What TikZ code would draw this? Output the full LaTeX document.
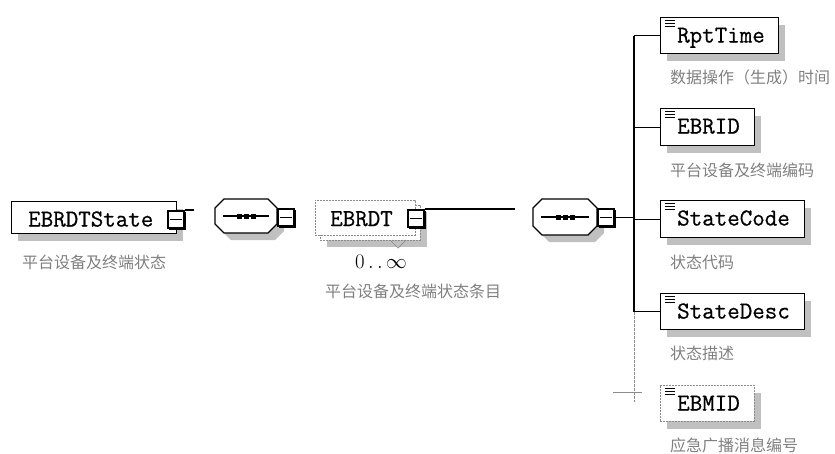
\documentclass[tikz,border=0pt]{standalone}
\usepackage{fontspec}
\newfontfamily\cjk{Noto Sans CJK SC}
\newfontfamily\boxfont{Latin Modern Mono}[FakeBold=0.6]
\definecolor{shadowgray}{RGB}{192,192,192}
\definecolor{labelgray}{RGB}{128,128,128}
\definecolor{optgray}{RGB}{140,140,140}
\tikzset{
  ebox/.style={draw, line width=1.3pt, fill=white, anchor=north west, inner sep=0pt},
  obox/.style={draw=optgray, line width=0.7pt, dash pattern=on 2pt off 1pt, fill=white, anchor=north west, inner sep=0pt},
  boxtext/.style={inner sep=0pt, font=\fontsize{24.3}{25}\boxfont},
  lab/.style={inner sep=0pt, text=labelgray, font=\fontsize{16}{16}\cjk},
  conn/.style={line width=1.3pt},
  minusbox/.style={draw, line width=1.5pt, fill=white, minimum width=16pt, minimum height=17pt, inner sep=0pt, anchor=north west},
}
\newcommand\mkicon[2]{%
  \draw[line width=0.8pt] (#1+5,#2+3.5) -- +(10,0) (#1+5,#2+6.5) -- +(10,0) (#1+5,#2+9.5) -- +(10,0);
}
\newcommand\mkelem[7]{%
  \fill[shadowgray] (#2+7,#3+8) rectangle (#4+7,#5+8);
  \node[#7, minimum width=#4-#2, minimum height=#5-#3] (#1) at (#2,#3) {};
  \node[boxtext, anchor=base west] (#1t) at (#2+17,#3+25.5) {#6};
}
\newcommand\mkminus[3]{%
  \draw[line width=1pt, fill=white] (#2+2.5,#3+2.5) rectangle +(16,17);
  \node[minusbox] (#1) at (#2,#3) {};
  \draw[line width=1.3pt] ([xshift=3pt]#1.west) -- ([xshift=-3pt]#1.east);
}
\newcommand\octpath[4]{(#1+9,#2) -- (#3-9,#2) -- (#3,#2+9) -- (#3,#4-9) -- (#3-9,#4) -- (#1+9,#4) -- (#1,#4-9) -- (#1,#2+9) -- cycle}
\newcommand\mkseq[5]{%
  \fill[shadowgray] \octpath{#2+7}{#3+7}{#4+7}{#5+7};
  \draw[line width=1.3pt, fill=white] \octpath{#2}{#3}{#4}{#5};
  \coordinate (#1) at ({(#2+#4)/2},{(#3+#5)/2});
  \draw[line width=1.3pt] (#2+8,{(#3+#5)/2}) -- (#4-8,{(#3+#5)/2});
  \foreach \k in {-7,0,7} \fill ([xshift=\k pt]#1) +(-2.5,-2.5) rectangle +(2.5,2.5);
}
\begin{document}
\begin{tikzpicture}[x=1pt,y=-1pt]
\useasboundingbox (0,0) rectangle (835,453);

% root element
\mkelem{root}{11}{201}{176}{233}{EBRDTState}{ebox}
\mkminus{m1}{167}{210}
\coordinate (e1) at (194,210);
\draw[conn] (m1.north east) -- (m1.north east -| e1);
\node[lab, anchor=west] (lroot) at (22,262) {平台设备及终端状态};

% sequence 1
\mkseq{s1}{215}{199}{277}{233}
\mkminus{m2}{277}{208}

% EBRDT (0..inf)
\fill[shadowgray] (327,212) rectangle (427,247);
\node[obox, minimum width=100, minimum height=35] (ebrdtback) at (320,205) {};
\draw[draw=optgray, line width=0.7pt] (390,240) -- (398,248) -- (406,240);
\node[obox, minimum width=100, minimum height=35] (ebrdt) at (315,200) {};
\node[boxtext, anchor=base west] (ebrdtt) at (330,226) {EBRDT};
\mkminus{m3}{407}{209}
\coordinate (e3) at (515,210);
\draw[conn] (m3.north east) -- (m3.north east -| e3);
\node (mult) at (381,262) {\fontsize{20}{20}\selectfont $0\,.\,.\,\infty$};
\node[lab, anchor=west] (lebrdt) at (325,291) {平台设备及终端状态条目};

% sequence 2
\mkseq{s2}{533}{199}{597}{235}
\mkminus{m4}{597}{208}
\coordinate (spine) at (634,0);
\draw[conn] (m4.east) -- (m4.east -| spine);

% children
\mkelem{rpt}{660}{17}{778}{53}{RptTime}{ebox}
\mkicon{660}{17}
\mkelem{ebrid}{660}{108}{754}{145}{EBRID}{ebox}
\mkicon{660}{108}
\mkelem{scode}{660}{200}{804}{237}{StateCode}{ebox}
\mkicon{660}{200}
\mkelem{sdesc}{660}{293}{804}{329}{StateDesc}{ebox}
\mkicon{660}{293}
\mkelem{ebmid}{660}{385}{754}{421}{EBMID}{obox}
\mkicon{660}{385}

\coordinate (spTop) at (rpt.west -| spine);
\coordinate (spDesc) at (sdesc.west -| spine);
\coordinate (spEnd) at (634,402);
\draw[conn] (spTop) -- (spDesc);
\draw[draw=optgray, line width=0.7pt, dash pattern=on 3pt off 1pt] (spDesc) -- (spEnd);
\draw[conn] (spTop) -- (rpt.west);
\draw[conn] (ebrid.west -| spine) -- (ebrid.west);
\draw[conn] (scode.west -| spine) -- (scode.west);
\draw[conn] (spDesc) -- (sdesc.west);
\coordinate (crossL) at (613,392);
\coordinate (crossR) at (642,392);
\draw[draw=optgray, line width=0.7pt] (crossL) -- (crossR);

\node[lab, anchor=west] (lrpt) at (670,77) {数据操作（生成）时间};
\node[lab, anchor=west] (lebrid) at (670,170) {平台设备及终端编码};
\node[lab, anchor=west] (lscode) at (670,262) {状态代码};
\node[lab, anchor=west] (lsdesc) at (670,353) {状态描述};
\node[lab, anchor=west] (lebmid) at (670,445) {应急广播消息编号};
\end{tikzpicture}
\end{document}
